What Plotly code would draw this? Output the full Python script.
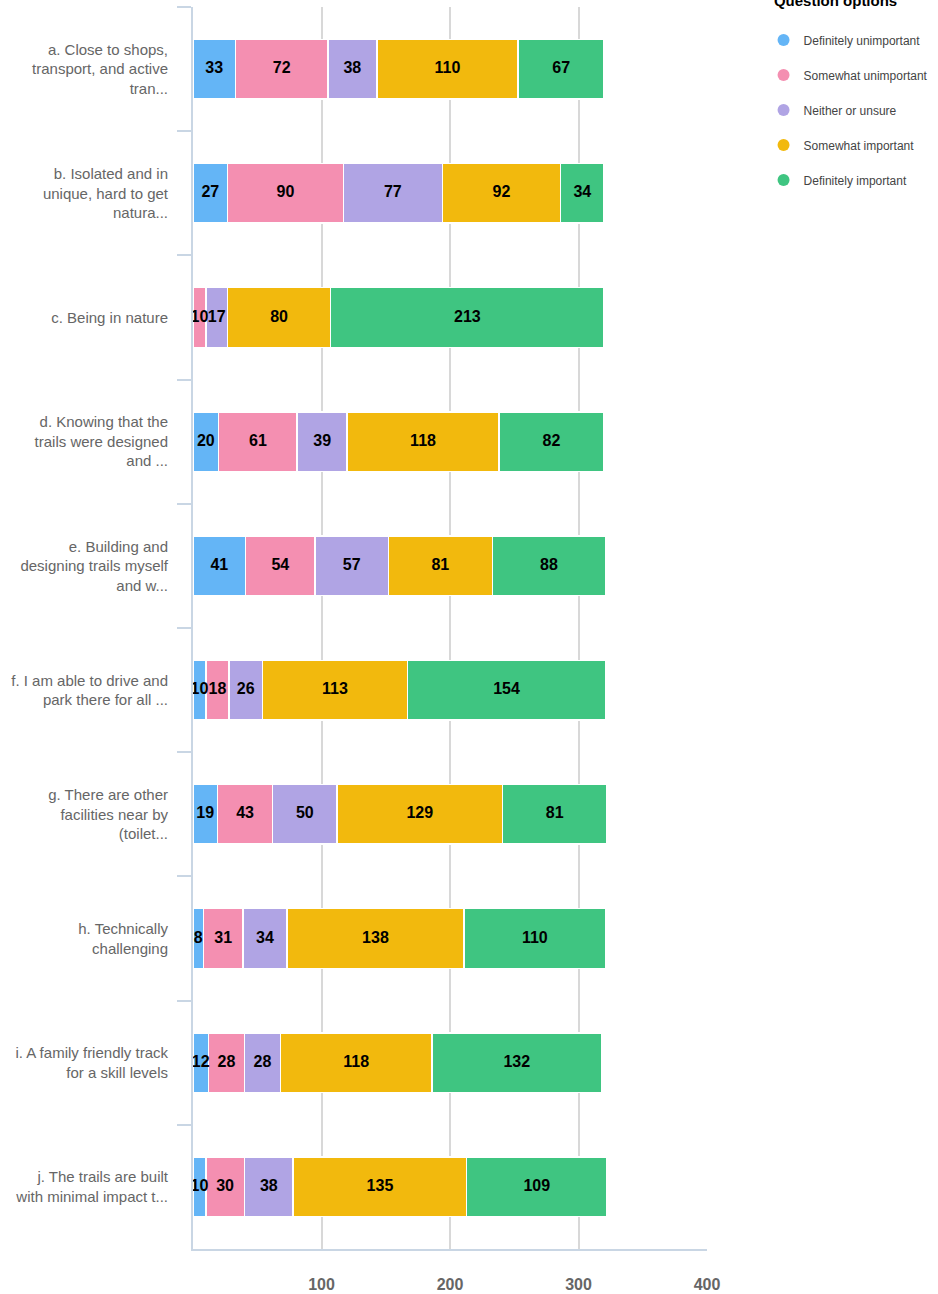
import plotly.graph_objects as go

categories = [
    "a. Close to shops,<br>transport, and active<br>tran...",
    "b. Isolated and in<br>unique, hard to get<br>natura...",
    "c. Being in nature",
    "d. Knowing that the<br>trails were designed<br>and ...",
    "e. Building and<br>designing trails myself<br>and w...",
    "f. I am able to drive and<br>park there for all ...",
    "g. There are other<br>facilities near by<br>(toilet...",
    "h. Technically<br>challenging",
    "i. A family friendly track<br>for a skill levels",
    "j. The trails are built<br>with minimal impact t...",
]
series_names = ["Definitely unimportant", "Somewhat unimportant", "Neither or unsure",
                "Somewhat important", "Definitely important"]
def_unimp = [33, 27, 0, 20, 41, 10, 19, 8, 12, 10]
some_unimp = [72, 90, 10, 61, 54, 18, 43, 31, 28, 30]
neither = [38, 77, 17, 39, 57, 26, 50, 34, 28, 38]
some_imp = [110, 92, 80, 118, 81, 113, 129, 138, 118, 135]
def_imp = [67, 34, 213, 82, 88, 154, 81, 110, 132, 109]
x_ticks = [100, 200, 300, 400]

colors = ["#64B5F6", "#F48FB1", "#B0A4E4", "#F2B90D", "#3FC581"]
values = [def_unimp, some_unimp, neither, some_imp, def_imp]

fig = go.Figure()
for name, vals, col in zip(series_names, values, colors):
    fig.add_trace(go.Bar(
        y=categories, x=vals, orientation="h", name=name,
        marker=dict(color=col, line=dict(color="white", width=1.5)),
        showlegend=False, hoverinfo="x+name",
    ))

# value labels drawn on top of all bars (centre of each stacked segment)
lab_x, lab_y, lab_t = [], [], []
for ci, cat in enumerate(categories):
    base = 0
    for vals in values:
        v = vals[ci]
        if v:
            lab_x.append(base + v / 2)
            lab_y.append(cat)
            lab_t.append(str(v))
        base += v
fig.add_trace(go.Scatter(
    x=lab_x, y=lab_y, text=lab_t, mode="text", textposition="middle center",
    textfont=dict(family="Liberation Sans, Arial", size=16, color="black", weight="bold"),
    showlegend=False, hoverinfo="skip", cliponaxis=False,
))

for i, (name, col) in enumerate(zip(series_names, colors)):
    fig.add_trace(go.Scatter(
        x=[None], y=[None], mode="markers", name=name, legendgroup=str(i),
        marker=dict(symbol="circle", size=16, color=col),
    ))

fig.update_layout(
    barmode="stack", bargap=0.52,
    width=938, height=1294,
    margin=dict(l=193, r=231, t=7, b=45, autoexpand=False),
    plot_bgcolor="white", paper_bgcolor="white",
    font=dict(family="Liberation Sans, Arial", color="#666666"),
    legend=dict(
        title=dict(text="&nbsp;&nbsp;<b>Question options</b><br> ", font=dict(size=15, color="black")),
        x=1.110, xanchor="left", y=1.0165, yanchor="top",
        font=dict(size=12, color="#444444"), tracegroupgap=16,
        itemsizing="constant",
    ),
    xaxis=dict(
        range=[0, 400], tickvals=x_ticks, showgrid=True, gridcolor="#d8d8d8", gridwidth=1.5,
        zeroline=False, showline=True, linecolor="#c9d6e4", linewidth=2,
        tickfont=dict(size=16, color="#666666", weight="bold"), ticks="", ticklabelstandoff=20,
        fixedrange=True,
    ),
    yaxis=dict(
        autorange="reversed", showline=True, linecolor="#c9d6e4", linewidth=2,
        ticks="outside", tickson="boundaries", ticklen=14, tickcolor="#c9d6e4", tickwidth=2,
        tickfont=dict(size=15, color="#666666"), ticklabelstandoff=20, showgrid=False,
    ),
)

fig.write_html("out.html", config={"displayModeBar": False},
               post_script="document.body.style.margin='0';document.body.style.padding='0';")
